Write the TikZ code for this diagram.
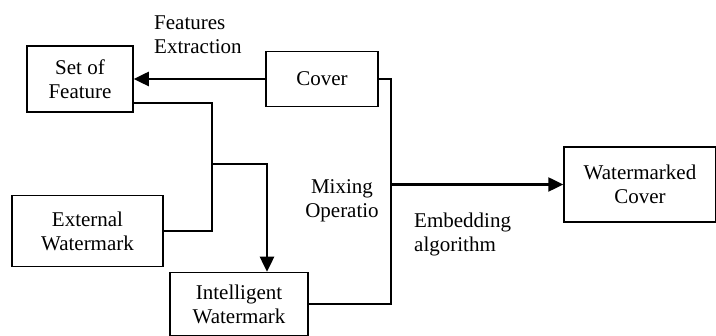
\documentclass[tikz,border=0pt]{standalone}
\usepackage{fontspec}
\setmainfont{Liberation Serif}
\usepackage{tikz}
\usetikzlibrary{arrows.meta,positioning,calc}

\begin{document}
\begin{tikzpicture}[x=1pt, y=-1pt,
    block/.style={rectangle, draw, line width=1.5pt, align=center, inner sep=0pt, font=\fontsize{21}{24}\selectfont},
    lbl/.style={inner sep=0pt, font=\fontsize{21}{24}\selectfont},
    link/.style={line width=1.5pt},
    arrow/.style={-{Triangle[length=15pt,width=14pt]}, line width=2.5pt}
  ]
    \useasboundingbox (0,0) rectangle (716,336);

    \node[block, minimum width=106pt, minimum height=66pt] (setf) at (80,79) {Set of\\Feature};
    \node[block, minimum width=112pt, minimum height=55pt] (cover) at (322,79) {Cover};
    \node[block, minimum width=151pt, minimum height=71pt] (ext) at (87.5,231) {External\\Watermark};
    \node[block, minimum width=138pt, minimum height=63pt] (intel) at (239,304) {Intelligent\\Watermark};
    \node[block, minimum width=152pt, minimum height=75pt] (wcover) at (640,184.5) {Watermarked\\Cover};

    \node[lbl, align=left, anchor=west] (fext) at (154,35) {Features\\Extraction};
    \node[lbl, align=center] (mixop) at (342,201) {Mixing\\Operatio};
    \node[lbl, align=left, anchor=west] (embed) at (414,234) {Embedding\\algorithm};

    \coordinate (j) at (212,164);
    \coordinate (m) at (391,184.5);

    \draw[arrow] (cover.west) -- (setf.east);
    \draw[link] ([yshift=-24pt]setf.east) -| (j) |- (ext.east);
    \draw[arrow] (j) -| ([xshift=28pt]intel.north);
    \draw[link] (cover.east) -| (m) |- (intel.east);
    \draw[arrow] (m) -- (m -| wcover.west);
  \end{tikzpicture}
\end{document}
